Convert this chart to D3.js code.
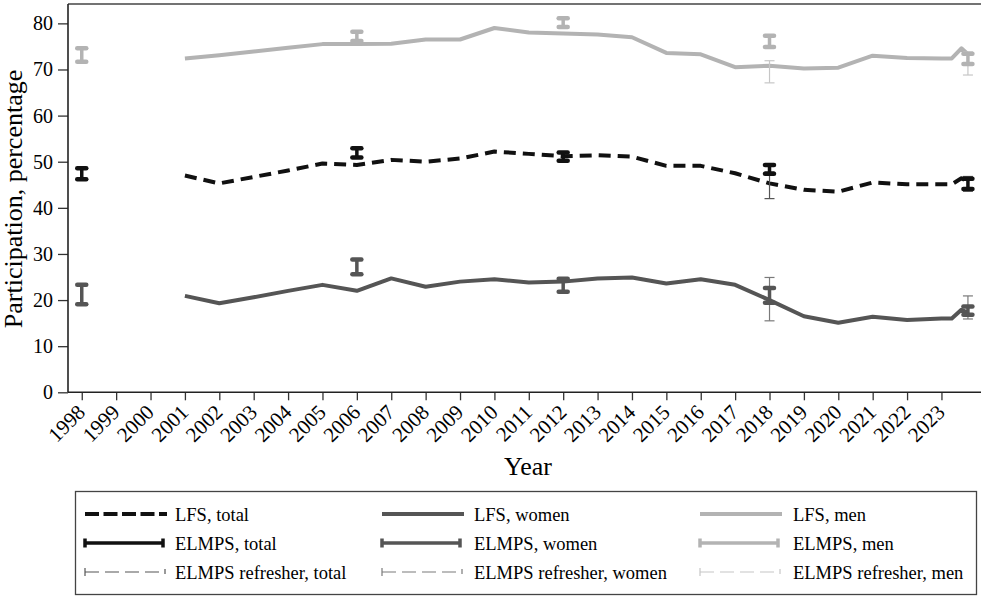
<!DOCTYPE html>
<html>
<head>
<meta charset="utf-8">
<script src="https://cdn.jsdelivr.net/npm/d3@7"></script>
<style>
  body { margin: 0; background: #fff; }
  svg { display: block; }
  text { font-family: "Liberation Serif", "Times New Roman", serif; fill: #000; }
</style>
</head>
<body>
<svg id="chart" width="981" height="598"></svg>
<script>
// Labour force survey (LFS) annual series, with the last few 2023/24 readings
const lfsYears = [2001, 2002, 2003, 2004, 2005, 2006, 2007, 2008, 2009, 2010, 2011, 2012,
                  2013, 2014, 2015, 2016, 2017, 2018, 2019, 2020, 2021, 2022, 2023,
                  2023.3, 2023.58, 2023.77];
const lfsTotal = [47.0, 45.3, 46.7, 48.1, 49.6, 49.3, 50.4, 50.0, 50.7, 52.2, 51.7, 51.2,
                  51.4, 51.1, 49.1, 49.1, 47.5, 45.3, 43.9, 43.5, 45.5, 45.1, 45.1,
                  45.1, 46.4, 45.8];
const lfsWomen = [20.9, 19.3, 20.6, 22.0, 23.3, 22.0, 24.7, 22.9, 24.0, 24.5, 23.8, 24.0,
                  24.7, 24.9, 23.6, 24.5, 23.3, 20.0, 16.5, 15.1, 16.4, 15.7, 16.0,
                  16.0, 17.9, 17.3];
const lfsMen   = [72.4, 73.1, 73.9, 74.7, 75.5, 75.5, 75.6, 76.5, 76.5, 79.0, 78.0, 77.8,
                  77.6, 77.0, 73.6, 73.3, 70.5, 70.8, 70.2, 70.4, 73.0, 72.5, 72.4,
                  72.4, 74.6, 73.3];

// ELMPS waves: confidence intervals (low / high)
const elmpsYears   = [1998, 2006, 2012, 2018, 2023.77];
const elmpsTotalLo = [46.2, 50.9, 50.2, 47.4, 44.1];
const elmpsTotalHi = [48.6, 52.9, 52.0, 49.3, 46.3];
const elmpsWomenLo = [19.1, 25.6, 21.8, 19.4, 16.8];
const elmpsWomenHi = [23.3, 28.8, 24.6, 22.6, 18.6];
const elmpsMenLo   = [71.7, 76.2, 79.2, 74.9, 71.2];
const elmpsMenHi   = [74.6, 78.2, 81.1, 77.3, 73.4];

// ELMPS refresher samples
const refYears   = [2018, 2023.77];
const refTotalLo = [42.0, 43.6];
const refTotalHi = [47.8, 46.8];
const refWomenLo = [15.5, 15.9];
const refWomenHi = [24.9, 20.9];
const refMenLo   = [67.1, 68.8];
const refMenHi   = [71.9, 73.8];

const yTicks = [0, 10, 20, 30, 40, 50, 60, 70, 80];
const xTicks = d3.range(1998, 2024);

const C_TOTAL = "#111111", C_WOMEN = "#555555", C_MEN = "#b3b3b3";
const C_REF_TOTAL = "#555555", C_REF_WOMEN = "#7a7a7a", C_REF_MEN = "#c6c6c6";

const svg = d3.select("#chart");
const plotL = 68, plotR = 981, plotT = 4, plotB = 392.3;

const x = d3.scaleLinear().domain([1997.6, 2024.15]).range([plotL, plotR]);
const y = d3.scaleLinear().domain([0, 84.2]).range([plotB, plotT]);

// frame
svg.append("line").attr("x1", plotL).attr("x2", plotR).attr("y1", plotT).attr("y2", plotT)
  .attr("stroke", "#444").attr("stroke-width", 1.5);

// y axis
const gy = svg.append("g").attr("transform", `translate(${plotL},0)`)
  .call(d3.axisLeft(y).tickValues(yTicks).tickSize(10).tickPadding(5));
gy.select(".domain").remove();
gy.selectAll(".tick line").attr("stroke", "#333").attr("stroke-width", 1.3);
gy.selectAll(".tick text").style("font-size", "20px").attr("font-family", null);

// x axis
const gx = svg.append("g").attr("transform", `translate(0,${plotB})`)
  .call(d3.axisBottom(x).tickValues(xTicks).tickSize(8).tickFormat(d3.format("d")));
gx.select(".domain").remove();
gx.selectAll(".tick line").attr("stroke", "#333").attr("stroke-width", 1.3);
gx.selectAll(".tick text")
  .style("font-size", "21px").attr("font-family", null)
  .attr("text-anchor", "end")
  .attr("x", -12).attr("y", 18).attr("dy", 0)
  .attr("transform", "rotate(-45)");

svg.append("line").attr("x1", plotL).attr("x2", plotL).attr("y1", plotT).attr("y2", plotB)
  .attr("stroke", "#222").attr("stroke-width", 1.6);
svg.append("line").attr("x1", plotL).attr("x2", plotR).attr("y1", plotB).attr("y2", plotB)
  .attr("stroke", "#222").attr("stroke-width", 1.6);

// axis titles
svg.append("text").attr("transform", `translate(22,199) rotate(-90)`)
  .attr("text-anchor", "middle").style("font-size", "26px")
  .text("Participation, percentage");
svg.append("text").attr("x", 528).attr("y", 475)
  .attr("text-anchor", "middle").style("font-size", "26px").text("Year");

// LFS lines
const line = d3.line().x(d => x(d[0])).y(d => y(d[1]));
function lfsLine(vals, color, dash) {
  svg.append("path")
    .datum(lfsYears.map((yr, i) => [yr, vals[i]]))
    .attr("d", line)
    .attr("fill", "none")
    .attr("stroke", color)
    .attr("stroke-width", 4)
    .attr("stroke-linejoin", "round")
    .attr("stroke-dasharray", dash || null);
}
lfsLine(lfsMen, C_MEN);
lfsLine(lfsWomen, C_WOMEN);
lfsLine(lfsTotal, C_TOTAL, "12,7");

// range bars with caps
function rangeBars(xs, lo, hi, color, barW, capW, capHalf, round) {
  const g = svg.append("g");
  xs.forEach((xv, i) => {
    const cx = x(xv), y1 = y(lo[i]), y2 = y(hi[i]);
    g.append("line").attr("x1", cx).attr("x2", cx).attr("y1", y1).attr("y2", y2)
      .attr("stroke", color).attr("stroke-width", barW);
    [y1, y2].forEach(cy => {
      g.append("line").attr("x1", cx - capHalf).attr("x2", cx + capHalf)
        .attr("y1", cy).attr("y2", cy)
        .attr("stroke", color).attr("stroke-width", capW)
        .attr("stroke-linecap", round ? "round" : "butt");
    });
  });
}
rangeBars(refYears, refMenLo, refMenHi, C_REF_MEN, 1.2, 1.2, 5, false);
rangeBars(refYears, refWomenLo, refWomenHi, C_REF_WOMEN, 1.2, 1.2, 5, false);
rangeBars(refYears, refTotalLo, refTotalHi, C_REF_TOTAL, 1.2, 1.2, 5, false);
rangeBars(elmpsYears, elmpsMenLo, elmpsMenHi, C_MEN, 3.5, 4.5, 4.5, true);
rangeBars(elmpsYears, elmpsWomenLo, elmpsWomenHi, C_WOMEN, 3.5, 4.5, 4.5, true);
rangeBars(elmpsYears, elmpsTotalLo, elmpsTotalHi, C_TOTAL, 3.5, 4.5, 4.5, true);

// legend
const legend = svg.append("g");
legend.append("rect").attr("x", 75.5).attr("y", 491.5).attr("width", 901).attr("height", 103)
  .attr("fill", "#fff").attr("stroke", "#444").attr("stroke-width", 1.3);

const legendLabels = [
  ["LFS, total", "LFS, women", "LFS, men"],
  ["ELMPS, total", "ELMPS, women", "ELMPS, men"],
  ["ELMPS refresher, total", "ELMPS refresher, women", "ELMPS refresher, men"]
];
const rowY = [514, 543, 572];
const colSym = [85, 382, 700];
const colText = [175, 474, 793];
const symLen = 78;
const lfsColors = [C_TOTAL, C_WOMEN, C_MEN];
const refColors = [C_REF_TOTAL, C_REF_WOMEN, C_REF_MEN];

for (let c = 0; c < 3; c++) {
  const x0 = colSym[c], x1 = colSym[c] + symLen;
  // row 1: LFS lines
  legend.append("line").attr("x1", x0).attr("x2", x1 + 4).attr("y1", rowY[0]).attr("y2", rowY[0])
    .attr("stroke", lfsColors[c]).attr("stroke-width", 4)
    .attr("stroke-dasharray", c === 0 ? "14,4.5" : null);
  // row 2: ELMPS range bar
  legend.append("line").attr("x1", x0).attr("x2", x1).attr("y1", rowY[1]).attr("y2", rowY[1])
    .attr("stroke", lfsColors[c]).attr("stroke-width", 3.5);
  [x0, x1].forEach(cx => legend.append("line").attr("x1", cx).attr("x2", cx)
    .attr("y1", rowY[1] - 4.5).attr("y2", rowY[1] + 4.5)
    .attr("stroke", lfsColors[c]).attr("stroke-width", 3.5));
  // row 3: refresher range bar
  legend.append("line").attr("x1", x0).attr("x2", x1 - 4).attr("y1", rowY[2]).attr("y2", rowY[2])
    .attr("stroke", refColors[c]).attr("stroke-width", 1.2).attr("stroke-dasharray", "14,6");
  legend.append("line").attr("x1", x0).attr("x2", x0).attr("y1", rowY[2] - 4).attr("y2", rowY[2] + 4)
    .attr("stroke", refColors[c]).attr("stroke-width", 1.2);
  legend.append("line").attr("x1", x1 + 2).attr("x2", x1 + 2).attr("y1", rowY[2] - 3).attr("y2", rowY[2] + 2)
    .attr("stroke", refColors[c]).attr("stroke-width", 1.2);

  for (let r = 0; r < 3; r++) {
    legend.append("text").attr("x", colText[c]).attr("y", rowY[r] + 6.5)
      .style("font-size", "18.5px").text(legendLabels[r][c]);
  }
}
</script>
</body>
</html>
